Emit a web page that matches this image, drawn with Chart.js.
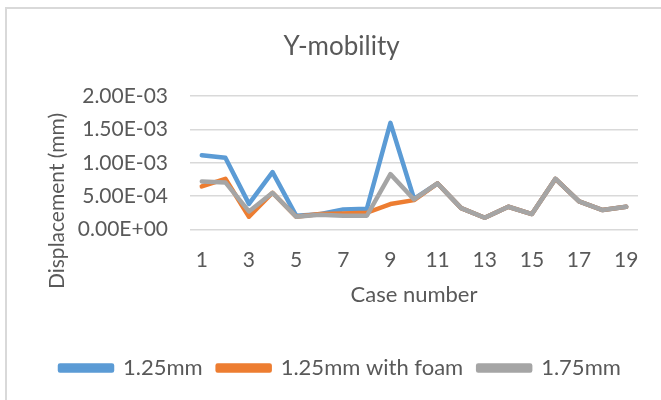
<!DOCTYPE html>
<html>
<head>
<meta charset="utf-8">
<script src="https://cdn.jsdelivr.net/npm/chart.js@4/dist/chart.umd.min.js"></script>
<style>
    html, body { margin: 0; padding: 0; background: #fff; }
    #wrap { position: relative; width: 661px; height: 400px; overflow: hidden; }
    #frame { position: absolute; left: 5px; top: 7px; right: -10px; bottom: -10px;
             border-left: 2px solid #d9d9d9; border-top: 2px solid #d9d9d9; }
    #chart { position: absolute; left: 0; top: 0; }
</style>
</head>
<body>
<div id="wrap">
    <div id="frame"></div>
    <canvas id="chart" width="661" height="400"></canvas>
</div>
<script>
const caseNumbers = ['1', '2', '3', '4', '5', '6', '7', '8', '9', '10',
                     '11', '12', '13', '14', '15', '16', '17', '18', '19'];
const yTicks = [0, 0.0005, 0.001, 0.0015, 0.002];

const thin125 = [1.115e-3, 1.076e-3, 3.83e-4, 8.6e-4, 2.06e-4, 2.27e-4, 3.0e-4, 3.1e-4, 1.6e-3, 4.6e-4,
                 6.9e-4, 3.2e-4, 1.75e-4, 3.4e-4, 2.3e-4, 7.6e-4, 4.2e-4, 2.9e-4, 3.4e-4];
const foam125 = [6.45e-4, 7.6e-4, 1.9e-4, 5.5e-4, 1.9e-4, 2.3e-4, 2.4e-4, 2.5e-4, 3.8e-4, 4.4e-4,
                 6.9e-4, 3.2e-4, 1.75e-4, 3.4e-4, 2.3e-4, 7.6e-4, 4.2e-4, 2.9e-4, 3.4e-4];
const thick175 = [7.2e-4, 7.05e-4, 2.7e-4, 5.5e-4, 1.9e-4, 2.2e-4, 2.05e-4, 2.05e-4, 8.3e-4, 4.5e-4,
                  6.9e-4, 3.2e-4, 1.75e-4, 3.4e-4, 2.3e-4, 7.6e-4, 4.2e-4, 2.9e-4, 3.4e-4];

const textColor = '#595959';
const fontFamily = 'Lato';

// Excel style scientific label, e.g. 2.00E-03
function sciLabel(v) {
    const parts = Number(v).toExponential(2).split('e');
    const exp = parseInt(parts[1], 10);
    const sign = exp < 0 ? '-' : '+';
    return parts[0] + 'E' + sign + String(Math.abs(exp)).padStart(2, '0');
}

// y axis title sits lower than the plot centre in the original, so draw it by hand
const yTitlePlugin = {
    id: 'yTitle',
    afterDraw(chart) {
        const ctx = chart.ctx;
        ctx.save();
        ctx.translate(57, 201);
        ctx.rotate(-Math.PI / 2);
        ctx.font = '21px ' + fontFamily;
        ctx.fillStyle = textColor;
        ctx.textAlign = 'center';
        ctx.textBaseline = 'middle';
        ctx.fillText('Displacement (mm)', 0, 0);
        ctx.restore();
    }
};

const ctx = document.getElementById('chart').getContext('2d');
new Chart(ctx, {
    type: 'line',
    data: {
        labels: caseNumbers,
        datasets: [
            { label: '1.25mm', data: thin125, borderColor: '#5b9bd5', backgroundColor: '#5b9bd5', order: 2 },
            { label: '1.25mm with foam', data: foam125, borderColor: '#ed7d31', backgroundColor: '#ed7d31', order: 1 },
            { label: '1.75mm', data: thick175, borderColor: '#a5a5a5', backgroundColor: '#a5a5a5', order: 0 }
        ]
    },
    options: {
        responsive: false,
        animation: false,
        layout: { padding: { left: 45, right: 23, top: 0, bottom: 11 } },
        elements: {
            line: { borderWidth: 4.5, tension: 0, borderCapStyle: 'round', borderJoinStyle: 'round' },
            point: { radius: 0, hoverRadius: 0 }
        },
        plugins: {
            title: {
                display: true,
                text: 'Y-mobility',
                color: textColor,
                font: { family: fontFamily, size: 26, weight: 'normal' },
                padding: { top: 31, bottom: 34 }
            },
            legend: {
                position: 'bottom',
                align: 'start',
                labels: {
                    color: textColor,
                    font: { family: fontFamily, size: 22 },
                    boxWidth: 52,
                    boxHeight: 5,
                    padding: 15,
                    sort: (a, b) => a.datasetIndex - b.datasetIndex
                }
            },
            tooltip: { enabled: false }
        },
        scales: {
            x: {
                offset: true,
                grid: { display: false, drawTicks: false },
                border: { display: false },
                ticks: {
                    color: textColor,
                    font: { family: fontFamily, size: 21 },
                    padding: 18,
                    maxRotation: 0,
                    autoSkip: false,
                    callback: (v, i) => (i % 2 === 0 ? caseNumbers[i] : '')
                },
                title: {
                    display: true,
                    text: 'Case number',
                    color: textColor,
                    font: { family: fontFamily, size: 22 },
                    padding: { top: -9, bottom: 34 }
                }
            },
            y: {
                min: yTicks[0],
                max: yTicks[yTicks.length - 1],
                afterFit: (scale) => { scale.width = 145; },
                afterBuildTicks: (scale) => { scale.ticks = yTicks.map(v => ({ value: v })); },
                grid: { color: '#d9d9d9', lineWidth: 1.5, drawTicks: false },
                border: { display: false },
                ticks: {
                    color: textColor,
                    font: { family: fontFamily, size: 21 },
                    padding: 22,
                    callback: (v) => sciLabel(v)
                }
            }
        }
    },
    plugins: [yTitlePlugin]
});
</script>
</body>
</html>
